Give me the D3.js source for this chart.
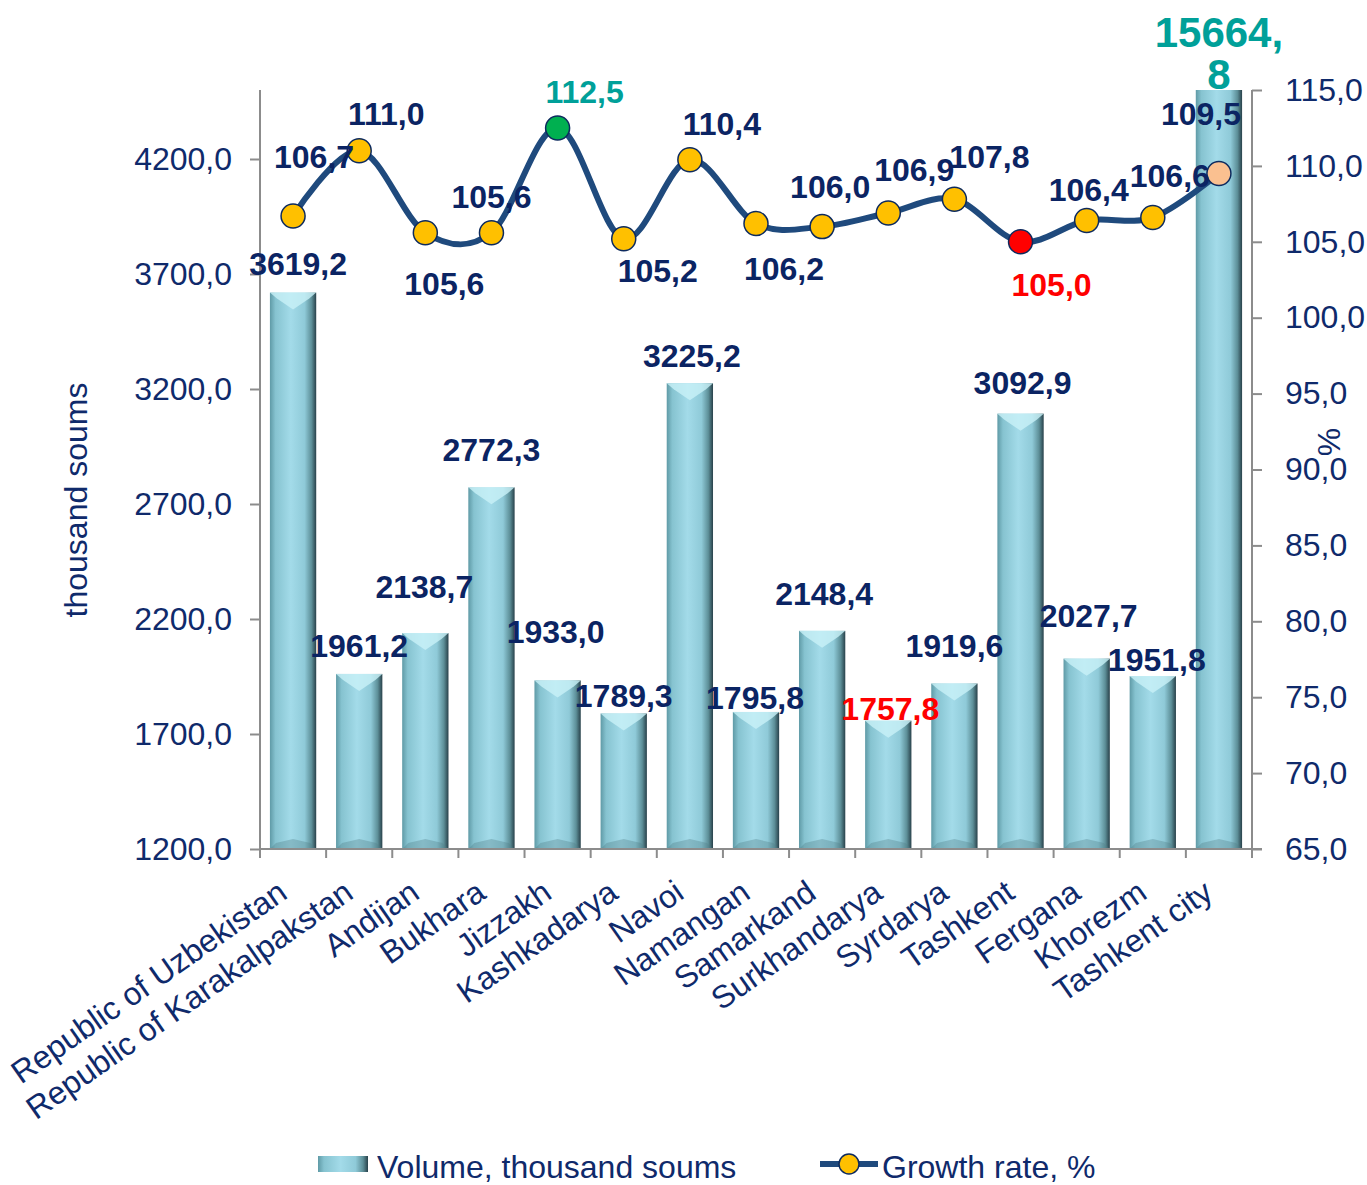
<!DOCTYPE html>
<html>
<head>
<meta charset="utf-8">
<script src="https://cdn.jsdelivr.net/npm/d3@7"></script>
<style>
  body { margin: 0; background: #fff; }
  text { font-family: "Liberation Sans", Arial, sans-serif; }
</style>
</head>
<body>
<script>
// regions, volume per capita (bars) and growth rate (line)
var categories = ["Republic of Uzbekistan", "Republic of Karakalpakstan", "Andijan", "Bukhara", "Jizzakh",
    "Kashkadarya", "Navoi", "Namangan", "Samarkand", "Surkhandarya", "Syrdarya", "Tashkent",
    "Fergana", "Khorezm", "Tashkent city"];
var volume = [3619.2, 1961.2, 2138.7, 2772.3, 1933.0, 1789.3, 3225.2, 1795.8, 2148.4, 1757.8, 1919.6, 3092.9, 2027.7, 1951.8, 15664.8];
var growth = [106.7, 111.0, 105.6, 105.6, 112.5, 105.2, 110.4, 106.2, 106.0, 106.9, 107.8, 105.0, 106.4, 106.6, 109.5];
var leftTicks = [1200, 1700, 2200, 2700, 3200, 3700, 4200];
var rightTicks = [65, 70, 75, 80, 85, 90, 95, 100, 105, 110, 115];

// label nudges (layout only)
var volLabelDx = [5, 0, -1, 0, -2, 0, 2, -1, 2, 2, 0, 2, 2, 4, 0];
var volLabelDy = [-18, -17, -35, -26, -37, -6, -16, -3, -26, -1, -26, -20, -32, -5, 0];
var rateLabelDx = [21, 27, 19, 0, 27, 34, 32, 28, 8, 26, 35, 31, 2, 17, -18];
var rateLabelDy = [-48, -26, 62, -25, -25, 43, -25, 56, -29, -32, -31, 54, -20, -31, -48];

var w = 1367, h = 1185;
var pLeft = 260, pRight = 1252, pTop = 90, pBottom = 849;
var navy = "#0f2a6b", labelNavy = "#0b2463", teal = "#00a099", red = "#ff0000";
var fs = "32px";

var fmt = function(v) { return d3.format(".1f")(v).replace(".", ","); };

var svg = d3.select("body").append("svg")
    .attr("width", w)
    .attr("height", h);

var x = d3.scaleBand().domain(categories).range([pLeft, pRight]).paddingInner(0.3).paddingOuter(0.15);
var xc = function(d) { return x(d) + x.bandwidth() / 2; };
var yL = d3.scaleLinear().domain([1200, 4500]).range([pBottom, pTop]);
var yR = d3.scaleLinear().domain([65, 115]).range([pBottom, pTop]);

var defs = svg.append("defs");
var grad = defs.append("linearGradient").attr("id", "barGrad").attr("x1", "0").attr("x2", "1").attr("y1", "0").attr("y2", "0");
grad.append("stop").attr("offset", "0").attr("stop-color", "#5f9aa6");
grad.append("stop").attr("offset", "0.12").attr("stop-color", "#86c3d0");
grad.append("stop").attr("offset", "0.45").attr("stop-color", "#a3dbe9");
grad.append("stop").attr("offset", "0.75").attr("stop-color", "#8fcad8");
grad.append("stop").attr("offset", "0.9").attr("stop-color", "#5d8f98");
grad.append("stop").attr("offset", "1").attr("stop-color", "#28414a");

defs.append("clipPath").attr("id", "plotClip")
    .append("rect").attr("x", pLeft).attr("y", pTop).attr("width", pRight - pLeft).attr("height", pBottom - pTop);

// bars
var bars = svg.append("g").attr("clip-path", "url(#plotClip)")
    .selectAll("g.bar")
    .data(categories)
    .enter()
    .append("g")
    .attr("class", "bar");

bars.append("rect")
    .attr("x", function(d) { return x(d); })
    .attr("y", function(d, i) { return yL(volume[i]); })
    .attr("width", x.bandwidth())
    .attr("height", function(d, i) { return pBottom - yL(volume[i]); })
    .attr("fill", "url(#barGrad)");

// bevel on top (light chevron) and bottom (dark)
bars.append("path")
    .attr("d", function(d, i) {
        var x0 = x(d), x1 = x0 + x.bandwidth(), y0 = yL(volume[i]), cx = xc(d);
        return "M" + x0 + "," + y0 + "L" + x1 + "," + y0 + "L" + (x1 - 7) + "," + (y0 + 6) +
            "L" + cx + "," + (y0 + 17) + "L" + (x0 + 7) + "," + (y0 + 6) + "Z";
    })
    .attr("fill", "#c9f1f8")
    .attr("opacity", 0.8);

bars.append("path")
    .attr("d", function(d) {
        var x0 = x(d), x1 = x0 + x.bandwidth(), cx = xc(d);
        return "M" + x0 + "," + pBottom + "L" + x1 + "," + pBottom + "L" + (x1 - 6) + "," + (pBottom - 6) +
            "L" + cx + "," + (pBottom - 10) + "L" + (x0 + 6) + "," + (pBottom - 6) + "Z";
    })
    .attr("fill", "#4f7f88")
    .attr("opacity", 0.35);

// axes
var axisColor = "#8c8c8c";
var gL = svg.append("g").attr("transform", "translate(" + pLeft + ",0)")
    .call(d3.axisLeft(yL).tickValues(leftTicks).tickSize(10).tickFormat(fmt));
var gR = svg.append("g").attr("transform", "translate(" + pRight + ",0)")
    .call(d3.axisRight(yR).tickValues(rightTicks).tickSize(10).tickFormat(fmt));
[gL, gR].forEach(function(g) {
    g.select(".domain").attr("stroke", axisColor).attr("stroke-width", 2).attr("d", "M0," + pTop + "V" + pBottom);
    g.selectAll(".tick line").attr("stroke", axisColor).attr("stroke-width", 2);
    g.selectAll(".tick text").attr("fill", navy).style("font-size", fs);
});
gL.selectAll(".tick text").attr("x", -28);
gR.selectAll(".tick text").attr("x", 33);

// x axis line and category ticks
var step = (pRight - pLeft) / categories.length;
var xTicks = d3.range(categories.length + 1);
svg.append("line")
    .attr("x1", pLeft).attr("x2", pRight + 10)
    .attr("y1", pBottom).attr("y2", pBottom)
    .attr("stroke", axisColor).attr("stroke-width", 2);
svg.selectAll(".xtick")
    .data(xTicks)
    .enter()
    .append("line")
    .attr("class", "xtick")
    .attr("x1", function(d) { return pLeft + d * step; })
    .attr("x2", function(d) { return pLeft + d * step; })
    .attr("y1", pBottom).attr("y2", pBottom + 9)
    .attr("stroke", axisColor).attr("stroke-width", 2);

svg.selectAll(".catLabel")
    .data(categories)
    .enter()
    .append("text")
    .attr("class", "catLabel")
    .attr("transform", function(d) { return "translate(" + (xc(d) - 4) + "," + 897 + ") rotate(-35)"; })
    .attr("text-anchor", "end")
    .attr("fill", navy)
    .style("font-size", fs)
    .text(function(d) { return d; });

// axis titles
svg.append("text")
    .attr("transform", "translate(87,500) rotate(-90)")
    .attr("text-anchor", "middle")
    .attr("fill", navy)
    .style("font-size", fs)
    .text("thousand soums");
svg.append("text")
    .attr("transform", "translate(1340,442) rotate(-90)")
    .attr("text-anchor", "middle")
    .attr("fill", navy)
    .style("font-size", fs)
    .text("%");

// bar value labels
svg.selectAll(".volLabel")
    .data(categories)
    .enter()
    .append("text")
    .attr("class", "volLabel")
    .attr("x", function(d, i) { return xc(d) + volLabelDx[i]; })
    .attr("y", function(d, i) { return Math.max(yL(volume[i]), pTop) + volLabelDy[i]; })
    .attr("text-anchor", "middle")
    .attr("fill", function(d, i) { return i === 9 ? red : i === 14 ? teal : labelNavy; })
    .style("font-size", function(d, i) { return i === 14 ? "42px" : fs; })
    .style("font-weight", "bold")
    .each(function(d, i) {
        var s = fmt(volume[i]);
        if (i === 14) {
            // too tall for the axis: label wraps above the plot
            var parts = s.split(",");
            var t = d3.select(this);
            t.append("tspan").attr("x", t.attr("x")).attr("dy", -43).text(parts[0] + ",");
            t.append("tspan").attr("x", t.attr("x")).attr("dy", 42).text(parts[1]);
        } else {
            d3.select(this).text(s);
        }
    });

// growth line
var line = d3.line()
    .x(function(d, i) { return xc(categories[i]); })
    .y(function(d) { return yR(d); })
    .curve(d3.curveCatmullRom.alpha(0));

svg.append("path")
    .datum(growth)
    .attr("d", line)
    .attr("fill", "none")
    .attr("stroke", "#1f4a7d")
    .attr("stroke-width", 6);

svg.selectAll(".marker")
    .data(growth)
    .enter()
    .append("circle")
    .attr("class", "marker")
    .attr("cx", function(d, i) { return xc(categories[i]); })
    .attr("cy", function(d) { return yR(d); })
    .attr("r", 12)
    .attr("fill", function(d, i) { return i === 4 ? "#00b050" : i === 11 ? "#ff0000" : i === 14 ? "#fac090" : "#ffc000"; })
    .attr("stroke", "#0d2a5e")
    .attr("stroke-width", 1.5);

svg.selectAll(".rateLabel")
    .data(growth)
    .enter()
    .append("text")
    .attr("class", "rateLabel")
    .attr("x", function(d, i) { return xc(categories[i]) + rateLabelDx[i]; })
    .attr("y", function(d, i) { return yR(d) + rateLabelDy[i]; })
    .attr("text-anchor", "middle")
    .attr("fill", function(d, i) { return i === 4 ? teal : i === 11 ? red : labelNavy; })
    .style("font-size", fs)
    .style("font-weight", "bold")
    .text(function(d) { return fmt(d); });

// legend
var leg = svg.append("g");
leg.append("rect").attr("x", 318).attr("y", 1156).attr("width", 50).attr("height", 16).attr("fill", "url(#barGrad)");
leg.append("text").attr("x", 377).attr("y", 1178).attr("fill", navy).style("font-size", fs).text("Volume, thousand soums");
leg.append("line").attr("x1", 820).attr("x2", 878).attr("y1", 1164).attr("y2", 1164)
    .attr("stroke", "#1f4a7d").attr("stroke-width", 6);
leg.append("circle").attr("cx", 849).attr("cy", 1164).attr("r", 10)
    .attr("fill", "#ffc000").attr("stroke", "#0d2a5e").attr("stroke-width", 1.5);
leg.append("text").attr("x", 882).attr("y", 1178).attr("fill", navy).style("font-size", fs).text("Growth rate, %");
</script>
</body>
</html>
